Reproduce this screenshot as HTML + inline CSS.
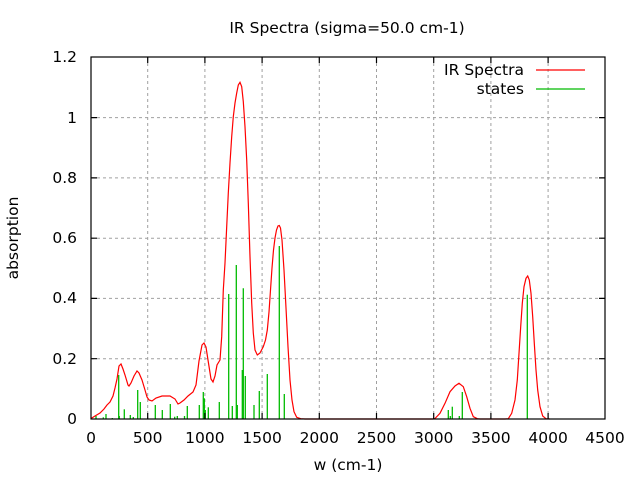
<!DOCTYPE html>
<html><head><style>body{margin:0;background:#fff}svg{display:block}text{font-family:"DejaVu Sans",sans-serif;font-size:15.5px;fill:#000}</style></head>
<body>
<svg width="640" height="480" viewBox="0 0 640 480">
<g stroke="#a0a0a0" stroke-dasharray="3,3" stroke-width="1">
<line x1="147.7" y1="57" x2="147.7" y2="419"/><line x1="204.9" y1="57" x2="204.9" y2="419"/><line x1="262.1" y1="57" x2="262.1" y2="419"/><line x1="319.3" y1="57" x2="319.3" y2="419"/><line x1="376.5" y1="57" x2="376.5" y2="419"/><line x1="433.7" y1="57" x2="433.7" y2="419"/><line x1="490.9" y1="57" x2="490.9" y2="419"/><line x1="548.1" y1="57" x2="548.1" y2="419"/>
<line x1="91" y1="358.7" x2="605" y2="358.7"/><line x1="91" y1="298.4" x2="605" y2="298.4"/><line x1="91" y1="238.2" x2="605" y2="238.2"/><line x1="91" y1="177.9" x2="605" y2="177.9"/><line x1="91" y1="117.6" x2="605" y2="117.6"/>
</g>
<g stroke="#00bb00" stroke-width="1.3">
<line x1="96" y1="419" x2="96" y2="416"/><line x1="103.3" y1="419" x2="103.3" y2="417.3"/><line x1="106" y1="419" x2="106" y2="414"/><line x1="112.3" y1="419" x2="112.3" y2="418"/><line x1="118.7" y1="419" x2="118.7" y2="375"/><line x1="119.3" y1="419" x2="119.3" y2="416"/><line x1="124.3" y1="419" x2="124.3" y2="409.3"/><line x1="130.3" y1="419" x2="130.3" y2="415"/><line x1="133.3" y1="419" x2="133.3" y2="417"/><line x1="137.7" y1="419" x2="137.7" y2="390"/><line x1="140.3" y1="419" x2="140.3" y2="402"/><line x1="155.3" y1="419" x2="155.3" y2="405"/><line x1="162.3" y1="419" x2="162.3" y2="410"/><line x1="170.3" y1="419" x2="170.3" y2="404"/><line x1="174.7" y1="419" x2="174.7" y2="416.7"/><line x1="177.3" y1="419" x2="177.3" y2="416"/><line x1="184.5" y1="419" x2="184.5" y2="416"/><line x1="187.3" y1="419" x2="187.3" y2="406"/><line x1="199.3" y1="419" x2="199.3" y2="405"/><line x1="203.3" y1="419" x2="203.3" y2="392"/><line x1="204.3" y1="419" x2="204.3" y2="398.3"/><line x1="205.3" y1="419" x2="205.3" y2="410"/><line x1="208.3" y1="419" x2="208.3" y2="407.3"/><line x1="219.3" y1="419" x2="219.3" y2="402"/><line x1="228.7" y1="419" x2="228.7" y2="294"/><line x1="232.3" y1="419" x2="232.3" y2="406"/><line x1="236.3" y1="419" x2="236.3" y2="265"/><line x1="237.3" y1="419" x2="237.3" y2="405"/><line x1="242.3" y1="419" x2="242.3" y2="370"/><line x1="243.3" y1="419" x2="243.3" y2="288.3"/><line x1="245.3" y1="419" x2="245.3" y2="376"/><line x1="254" y1="419" x2="254" y2="405"/><line x1="259.3" y1="419" x2="259.3" y2="391"/><line x1="267.3" y1="419" x2="267.3" y2="374"/><line x1="279.3" y1="419" x2="279.3" y2="246"/><line x1="284.3" y1="419" x2="284.3" y2="394"/>
<line x1="448.3" y1="419" x2="448.3" y2="410"/><line x1="450.3" y1="419" x2="450.3" y2="416"/><line x1="452.3" y1="419" x2="452.3" y2="406.7"/><line x1="459.3" y1="419" x2="459.3" y2="416"/><line x1="462.3" y1="419" x2="462.3" y2="392"/><line x1="527.3" y1="419" x2="527.3" y2="294.7"/>
</g>
<polyline fill="none" stroke="#ff0000" stroke-width="1.2" points="91,418.5 95,416 100,413 104,409 107,405 110,402 113,396 115,388 117,379 119,366 121,364 123,369 125,375 128,385 129,386 131,383 134,376 137,371 139,373 142,380 145,390 147,397 149,400 152,401 156,398 162,396 170,396 175,399 178,404 180,403 184,400 188,396 193,392 196,385 199,361 202,345 204,343 206,347 208,360 211,379 213,382 215,376 217,365 220,360 221.7,336.7 223.3,290 225,263 226.7,226.7 228.3,193 230,163 231.7,136.7 233.3,116.7 235,103 236.7,93 238.3,85 240,82.3 241.7,86.7 243.3,101.7 245,126.7 246.7,160 248.3,203 250,256.7 251.7,303 253.3,333 255,350 257.3,355 260,353 263.3,346.7 265.5,340 267.3,330 269,312 270.5,290 272,268 273.5,250 275,238 276.5,230 278,226 279.3,225.5 280.5,228 282,240 284,270 286,308 288,346.7 290,380 292,400 294,411.7 296.7,417.3 300.7,418.7 305,419 433,419 435,418.5 440,413.3 445,403.3 450,391.7 455,386 459,383.3 463.3,386.7 466.7,396.7 470,408.3 473.3,416.7 477.3,418.7 480,419 505,419 508.3,418.7 511.7,413.3 515,400 517.3,380 519,353.3 520.7,326.7 522.3,303.3 524,286.7 526,278.3 527.7,276 529.3,280 531,293.3 532.7,316.7 534.3,343.3 536,370 537.7,390 540,406.7 542.7,416 546,418.7 550,419"/>
<rect x="91" y="57" width="514" height="362" fill="none" stroke="#000" stroke-width="1.2"/>
<g stroke="#000" stroke-width="1.2">
<path d="M147.7,419v-6M204.9,419v-6M262.1,419v-6M319.3,419v-6M376.5,419v-6M433.7,419v-6M490.9,419v-6M548.1,419v-6M147.7,57v6M204.9,57v6M262.1,57v6M319.3,57v6M376.5,57v6M433.7,57v6M490.9,57v6M548.1,57v6M91,358.7h6M91,298.4h6M91,238.2h6M91,177.9h6M91,117.6h6M605,358.7h-6M605,298.4h-6M605,238.2h-6M605,177.9h-6M605,117.6h-6"/>
</g>
<g text-anchor="end">
<text x="77" y="424">0</text><text x="77" y="364">0.2</text><text x="77" y="303">0.4</text><text x="77" y="243">0.6</text><text x="77" y="183">0.8</text><text x="77" y="123">1</text><text x="77" y="62">1.2</text>
<text x="524" y="75">IR Spectra</text><text x="524" y="94">states</text>
</g>
<g text-anchor="middle">
<text x="91" y="443">0</text><text x="147.7" y="443">500</text><text x="204.9" y="443">1000</text><text x="262.1" y="443">1500</text><text x="319.3" y="443">2000</text><text x="376.5" y="443">2500</text><text x="433.7" y="443">3000</text><text x="490.9" y="443">3500</text><text x="548.1" y="443">4000</text><text x="605" y="443">4500</text>
<text x="348" y="470">w (cm-1)</text>
<text x="347" y="33">IR Spectra (sigma=50.0 cm-1)</text>
<text transform="translate(18,238) rotate(-90)">absorption</text>
</g>
<line x1="536" y1="70" x2="585" y2="70" stroke="#ff0000" stroke-width="1.2"/>
<line x1="536" y1="89" x2="585" y2="89" stroke="#00bb00" stroke-width="1.2"/>
</svg>
</body></html>
